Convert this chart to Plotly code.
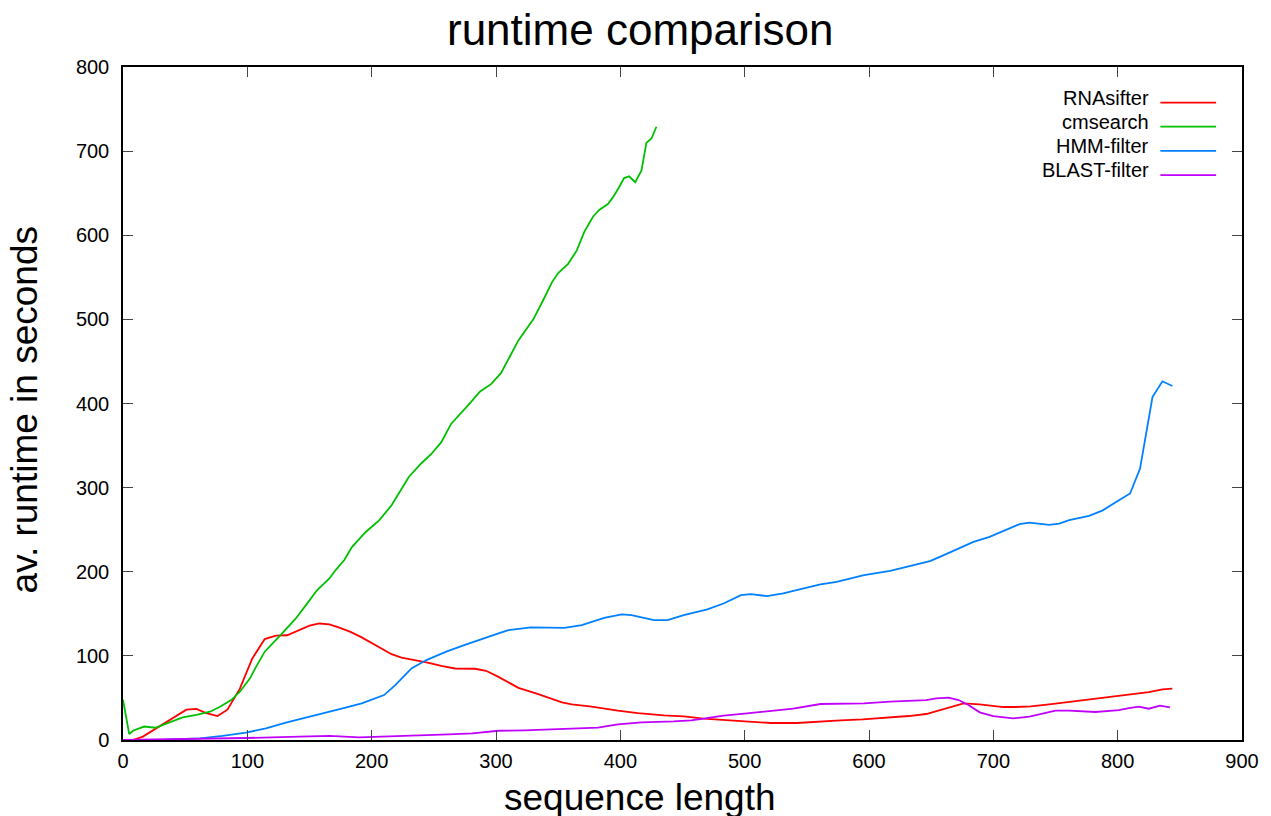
import plotly.graph_objects as go

series_names = ["RNAsifter", "cmsearch", "HMM-filter", "BLAST-filter"]
series_colors = ["#ff0000", "#00c000", "#0080ff", "#c000ff"]

rna_x = [0, 8, 16, 27, 38, 51, 59, 67, 76, 84, 94, 104, 114, 123, 132, 142, 150, 158, 166, 174,
         183, 192, 200, 208, 216, 224, 236, 245, 256, 267, 283, 292, 302, 318, 334, 353, 361, 377,
         398, 414, 435, 451, 467, 483, 494, 505, 521, 542, 561, 577, 595, 614, 632, 646, 660, 676,
         689, 708, 718, 730, 745, 769, 796, 825, 836, 844]
rna_y = [0, 0, 4, 14, 24, 36, 37, 32, 28.5, 36, 61, 97, 120, 124, 124.5, 130.5, 136, 138.5, 137.5, 133.5,
         128.5, 122, 115, 108, 102, 98, 95, 92, 88, 85, 84.7, 82.3, 75, 62, 54.6, 44.7, 42.3, 39.6,
         34.8, 32, 29.3, 28, 25.3, 23.8, 23, 21.4, 20.2, 20.2, 22.2, 23.4, 24.5, 26.5, 28.5, 30.9, 36.8, 43.5,
         42.3, 39.2, 39.2, 40, 42.3, 46.7, 51.5, 57, 60.2, 61]

cm_x = [0, 5, 8, 17, 26, 32, 48, 59, 70, 78, 87, 94, 102, 107, 114, 128, 139, 147, 156, 166,
        171, 178, 184, 195, 206, 216, 230, 240, 248, 256, 264, 280, 287, 296, 304, 318, 330, 338,
        345, 350, 358, 365, 371, 378, 383, 390, 394, 399, 403, 407, 412, 417, 421, 425, 429]
cm_y = [48, 7, 11, 16, 14.6, 18, 27, 30, 33.6, 39.6, 47.5, 57.4, 73, 87, 105, 126.7, 144.5, 160, 178, 192,
        202, 214, 229, 247, 261, 279, 313, 329, 340, 354, 376, 402, 414, 423, 436, 475, 500, 523,
        544, 555, 566, 582, 604, 622, 630, 637, 645, 657, 668, 670, 663, 677, 710, 715, 729]

hmm_x = [0, 35, 62, 80, 99, 115, 131, 147, 163, 179, 192, 200, 210, 219, 232, 244, 260, 275, 290,
         302, 310, 328, 355, 369, 387, 401, 409, 427, 438, 451, 470, 483, 497, 505, 518, 531, 545,
         561, 574, 582, 596, 617, 633, 649, 657, 673, 684, 697, 708, 721, 729, 745, 753, 761, 777,
         788, 802, 810, 818, 828, 836, 844]
hmm_y = [0, 0.3, 2, 4.8, 8.7, 13.9, 20.6, 26.5, 31.7, 38.4, 43.5, 47.5, 53.4, 65.3, 85, 95, 105, 113, 121,
         126.7, 130.6, 133.8, 133.4, 136.6, 145.3, 149.3, 148.5, 142.5, 142.5, 148.5, 155.2, 162.3, 172.2, 173.4, 171, 174.2, 179.3,
         184.9, 188, 191.2, 196, 201, 206.7, 212.6, 217.7, 228.8, 235.5, 241.5, 248.2, 256.5, 258.5, 255.7, 257.3, 261.3, 266.4,
         273, 285.8, 293, 322.6, 407.7, 426.4, 420.8]

blast_x = [0, 62, 99, 142, 166, 190, 200, 222, 235, 254, 262, 281, 302, 323, 350, 366, 382, 398, 417,
           443, 457, 467, 483, 502, 518, 539, 561, 582, 596, 617, 646, 654, 664, 672, 680, 689, 700,
           716, 729, 750, 761, 782, 801, 809, 817, 825, 834, 842]
blast_y = [0, 1.2, 2.4, 4, 4.8, 3.2, 3.6, 4.8, 5.5, 6.3, 6.7, 7.9, 11, 11.5, 13, 13.5, 14.7, 18.6, 21,
           22.2, 23.4, 25.3, 28.9, 31.7, 34.4, 37.2, 42.8, 42.8, 43.5, 45.5, 47.5, 49.5, 50.3, 47.5, 41.6, 32.9, 28.5,
           25.7, 27.7, 34.8, 34.8, 33.3, 35.6, 38, 39.6, 37.2, 40.8, 38.8]

x_ticks = [0, 100, 200, 300, 400, 500, 600, 700, 800, 900]
y_ticks = [0, 100, 200, 300, 400, 500, 600, 700, 800]

title_text = "runtime comparison"
x_title = "sequence length"
y_title = "av. runtime in seconds"

FONT = "Liberation Sans, Arial, Helvetica, sans-serif"

W, H = 1271, 816
L, R, T, B = 123, 1247, 67, 740

def px_x(p):
    return (p - L) / (R - L)

def px_y(p):
    return (B - p) / (B - T)

fig = go.Figure()
all_x = [rna_x, cm_x, hmm_x, blast_x]
all_y = [rna_y, cm_y, hmm_y, blast_y]
for name, c, xs, ys in zip(series_names, series_colors, all_x, all_y):
    fig.add_trace(go.Scatter(x=xs, y=ys, mode="lines", name=name,
                             line=dict(color=c, width=1.8), showlegend=False))

annotations = []
shapes = []
legend_rows = [102.7, 126.7, 150.9, 175.2]
for name, c, row in zip(series_names, series_colors, legend_rows):
    annotations.append(dict(text=name, x=px_x(1156), y=px_y(row - 5), xref="paper", yref="paper",
                            xanchor="right", yanchor="middle", showarrow=False,
                            font=dict(family=FONT, size=20, color="black")))
    shapes.append(dict(type="line", xref="paper", yref="paper",
                       x0=px_x(1165), x1=px_x(1221), y0=px_y(row), y1=px_y(row),
                       line=dict(color=c, width=1.8)))

annotations.append(dict(text=title_text, x=px_x(642), y=px_y(30), xref="paper", yref="paper",
                        xanchor="center", yanchor="middle", showarrow=False,
                        font=dict(family=FONT, size=44, color="black")))
annotations.append(dict(text=x_title, x=px_x(642), y=px_y(797), xref="paper", yref="paper",
                        xanchor="center", yanchor="middle", showarrow=False,
                        font=dict(family=FONT, size=37, color="black")))
annotations.append(dict(text=y_title, x=px_x(24), y=px_y(410), xref="paper", yref="paper",
                        xanchor="center", yanchor="middle", showarrow=False, textangle=-90,
                        font=dict(family=FONT, size=37, color="black")))

axis_common = dict(showgrid=False, zeroline=False, showline=True, linecolor="black", linewidth=1.5,
                   mirror="ticks", ticks="inside", ticklen=10, tickwidth=1.2, tickcolor="#444444",
                   tickfont=dict(family=FONT, size=20, color="black"))

fig.update_layout(
    width=W, height=H,
    margin=dict(l=L, r=W - R, t=T, b=H - B),
    paper_bgcolor="white", plot_bgcolor="white",
    xaxis=dict(range=[0, 900], tickvals=x_ticks, ticklabelstandoff=2, **axis_common),
    yaxis=dict(range=[0, 800], tickvals=y_ticks, ticklabelstandoff=8, **axis_common),
    annotations=annotations, shapes=shapes,
)

fig.write_html("out.html", config={"displayModeBar": False},
               post_script="document.body.style.margin='0px';document.body.style.overflow='hidden';")
